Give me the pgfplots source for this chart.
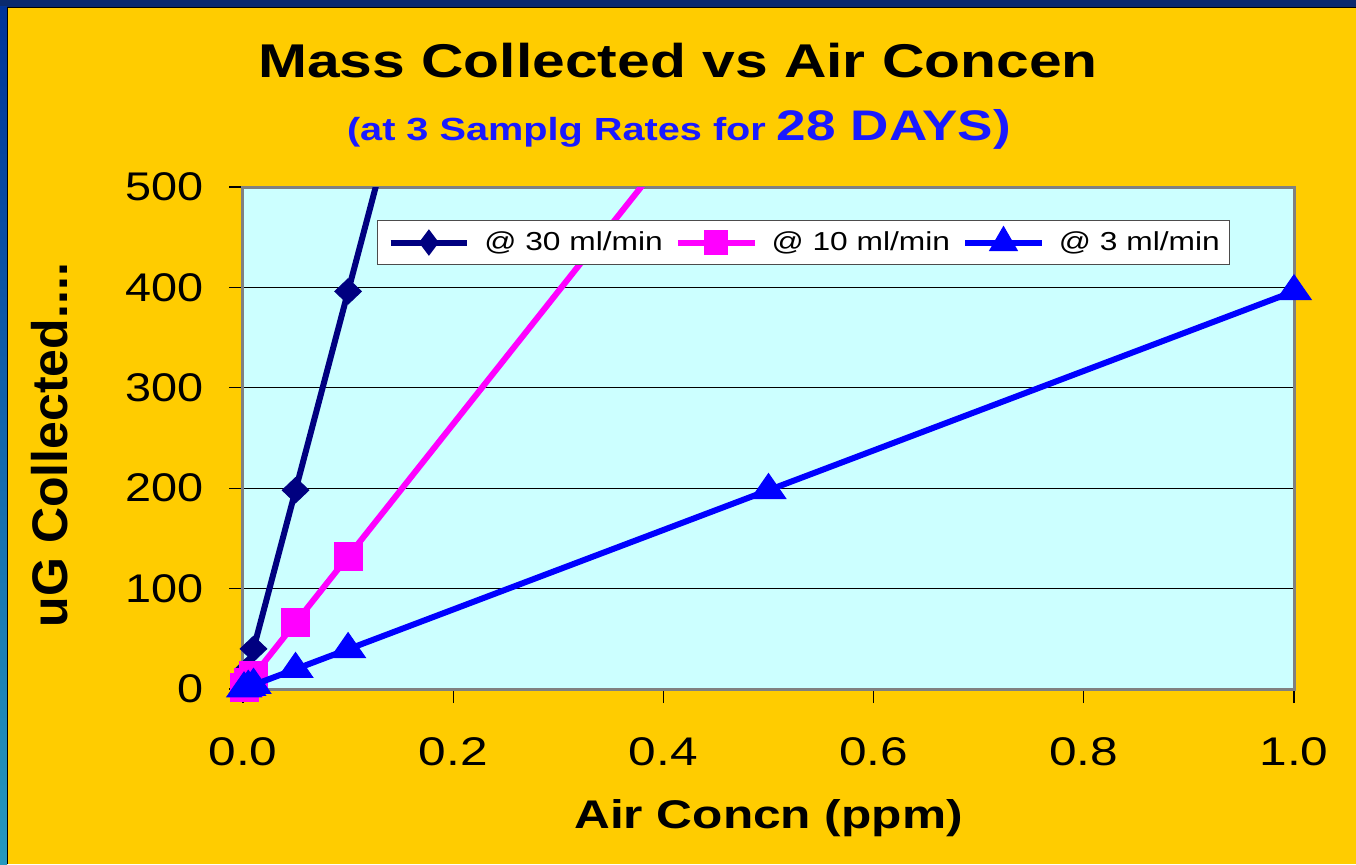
\documentclass[border=0pt]{standalone}
\usepackage{graphicx}
\usepackage{pgfplots}
\pgfplotsset{compat=1.18}
\usepackage{fontspec}
\setmainfont{Liberation Sans}
\definecolor{gold}{HTML}{FFCC00}
\definecolor{plotbg}{HTML}{CCFFFF}
\definecolor{navyline}{HTML}{000080}
\definecolor{magline}{HTML}{FF00FF}
\definecolor{blueline}{HTML}{0000FF}
\definecolor{topband}{HTML}{0A2A6E}
\definecolor{lefttop}{HTML}{003399}
\definecolor{leftbot}{HTML}{2699BE}
\definecolor{subblue}{HTML}{1A1AFF}
\begin{document}
\begin{tikzpicture}
\useasboundingbox (0,0) rectangle (678pt,432pt);
\fill[gold] (0,0) rectangle (678pt,432pt);
\fill[topband] (0,428.5pt) rectangle (678pt,432pt);
\shade[top color=lefttop,bottom color=leftbot] (0,0) rectangle (3.5pt,428.5pt);
\draw[black,line width=0.5pt] (3.6pt,0) -- (3.6pt,428.3pt) -- (678pt,428.3pt);
\node[font=\bfseries\fontsize{23.7}{26}\selectfont] at (339pt,401.5pt) {\scalebox{1.24}[1]{Mass Collected vs Air Concen}};
\node[font=\bfseries\fontsize{16}{19}\selectfont,text=subblue] at (339.5pt,367.5pt) {\scalebox{1.24}[1]{(at 3 Samplg Rates for {\fontsize{21.4}{24}\selectfont 28 DAYS)}}};
\begin{axis}[
  at={(121.5pt,87.5pt)}, anchor=south west,
  scale only axis, width=525.5pt, height=251pt,
  xmin=0, xmax=1.0, ymin=0, ymax=500,
  xtick={0,0.2,0.4,0.6,0.8,1.0},
  ytick={0,100,200,300,400,500},
  /pgf/number format/assume math mode=true,
  xticklabel={\scalebox{1.24}[1]{\pgfmathprintnumber[fixed,fixed zerofill,precision=1]{\tick}}},
  yticklabel={\scalebox{1.17}[1]{\pgfmathprintnumber{\tick}}},
  tick label style={font=\fontsize{20}{22}\selectfont},
  xticklabel style={yshift=-13.5pt},
  yticklabel style={xshift=-9pt},
  tick align=outside, major tick length=7pt,
  tick style={black, line width=0.6pt},
  xtick pos=bottom, ytick pos=left,
  ymajorgrids, major grid style={black, line width=0.5pt},
  axis background/.style={fill=plotbg},
  axis line style={draw=gray, line width=1.5pt},
  clip mode=individual,
  xlabel={\scalebox{1.24}[1]{Air Concn (ppm)}},
  ylabel={uG Collected....},
  xlabel style={font=\bfseries\fontsize{20}{23}\selectfont, at={(axis description cs:0.5,-0.257)}, anchor=center},
  ylabel style={font=\bfseries\fontsize{25}{28}\selectfont, at={(axis description cs:-0.1836,0.486)}, anchor=center},
  legend columns=3,
  legend style={at={(axis description cs:0.1275,0.934)}, anchor=north west,
    fill=white, draw=black!70, line width=0.5pt, font=\fontsize{13}{15}\selectfont,
    inner xsep=5pt, inner ysep=3.5pt, nodes={inner xsep=0pt, inner ysep=2pt},
    /tikz/every odd column/.append style={column sep=7pt},
    /tikz/every even column/.append style={column sep=6pt}},
  legend image code/.code={\draw[mark indices={2},mark options={scale=0.66}] plot coordinates {(0pt,0pt)(19.2pt,0pt)(38.4pt,0pt)};},
  every axis plot/.append style={line width=3pt},
]
\addplot[navyline, mark=diamond*, mark size=6.3pt, mark options={line width=0.5pt, fill=navyline, xscale=1.4}, mark indices={1,2,3,4,5}]
  coordinates {(0.001,4) (0.005,20) (0.01,40) (0.05,198) (0.1,396) (0.5,1980)};
\addlegendentry{\scalebox{1.22}[1]{@ 30 ml/min}}
\addplot[magline, mark=square*, mark size=7pt, mark options={line width=0.5pt, fill=magline}, mark indices={1,2,3,4,5}]
  coordinates {(0.001,1.3) (0.005,6.6) (0.01,13.2) (0.05,66) (0.1,132) (0.5,660)};
\addlegendentry{\scalebox{1.22}[1]{@ 10 ml/min}}
\addplot[blueline, mark=triangle*, mark size=8.3pt, mark options={line width=0.5pt, fill=blueline, xscale=1.2}]
  coordinates {(0.001,0.4) (0.005,2) (0.01,4) (0.05,19.8) (0.1,39.6) (0.5,198) (1.0,396)};
\addlegendentry{\scalebox{1.22}[1]{@ 3 ml/min}}
\end{axis}
\end{tikzpicture}
\end{document}
